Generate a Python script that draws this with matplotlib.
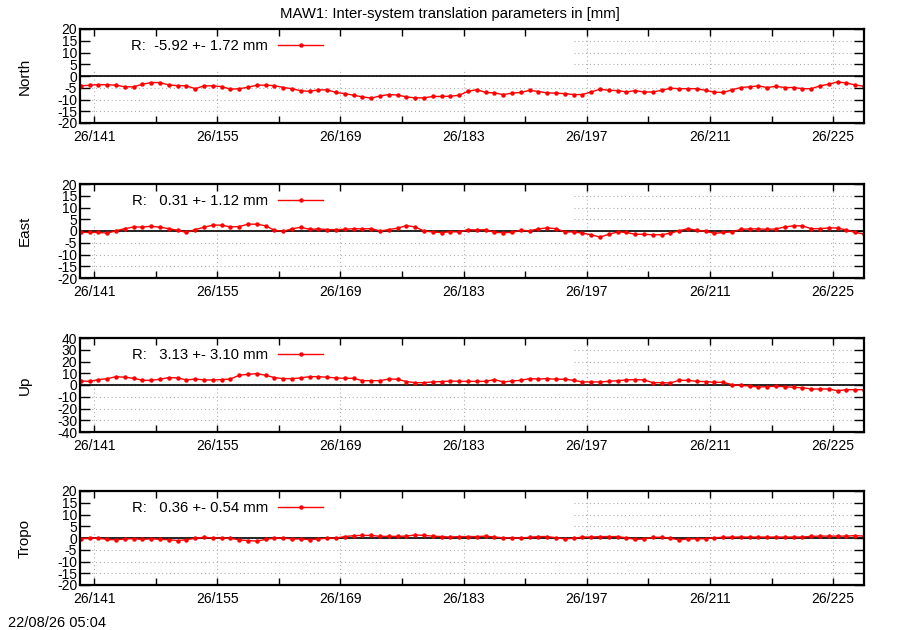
import numpy as np
import matplotlib
matplotlib.use('Agg')
import matplotlib.pyplot as plt
from matplotlib.patches import Rectangle

plt.rcParams['font.family'] = ['Liberation Sans', 'DejaVu Sans']

# Daily epochs (day of year, noon)
days = np.arange(139, 229) + 0.5

north = [-4.2, -3.9, -3.7, -3.7, -3.9, -4.6, -4.6, -3.5, -2.8, -2.8,
         -3.8, -4.1, -4.2, -5.4, -4.2, -4.2, -4.5, -5.6, -5.4, -4.8,
         -3.9, -3.9, -4.1, -4.9, -5.4, -6.3, -6.5, -5.9, -5.9, -7.0,
         -7.5, -8.2, -8.9, -9.4, -8.5, -7.9, -8.1, -8.9, -9.3, -9.3,
         -8.7, -8.7, -8.6,
         -8.2, -6.5, -5.8, -7.0, -7.2, -7.9, -7.3, -7.0, -6.1, -6.6,
         -7.2, -7.3, -7.5, -7.9, -7.9, -6.8, -5.6, -6.1, -6.2, -6.8,
         -6.2, -6.8, -6.8, -6.1, -5.2, -5.4, -5.4, -5.4, -6.1, -6.9,
         -7.0, -5.9, -4.9, -4.6, -4.2, -4.9, -4.4, -4.9, -4.9, -5.4,
         -5.4, -4.2, -3.5, -2.5, -3.0, -3.8, -4.4]

east = [-0.6, -0.6, -0.6, -0.9, 0.1, 1.0, 1.7, 1.7, 2.0, 1.6,
        1.0, 0.3, -0.6, 0.6, 1.6, 2.5, 2.5, 1.7, 1.9, 2.9,
        2.9, 2.2, 0.3, -0.1, 0.9, 1.6, 0.7, 0.9, 0.6, 0.6,
        0.7, 1.0, 0.9, 1.0, 0.0, 0.6, 1.2, 2.3, 1.7, 0.0,
        -0.4, -0.7, -0.3,
        -0.4, 0.6, 0.4, 0.6, -0.6, -0.7, -0.6, 0.3, 0.1, 0.9,
        1.3, 1.0, -0.4, -0.4, -0.9, -1.6, -2.6, -1.4, -0.4, -0.6,
        -1.4, -1.4, -1.6, -1.6, -0.9, 0.1, 1.0, 0.3, -0.1, -1.0,
        -0.6, -0.4, 0.7, 0.9, 0.9, 0.7, 0.9, 1.7, 2.2, 2.2,
        1.0, 1.0, 1.3, 1.3, 0.4, -0.6, -1.3]

up = [3.4, 3.1, 4.6, 5.4, 7.1, 6.6, 5.7, 4.0, 4.0, 4.9,
      6.3, 6.0, 4.3, 5.1, 4.3, 4.3, 4.6, 5.1, 8.3, 9.1,
      9.7, 8.3, 6.3, 5.4, 5.4, 6.0, 7.1, 7.1, 6.6, 6.0,
      5.7, 5.7, 3.7, 3.7, 3.7, 5.1, 4.9, 2.9, 2.0, 2.0,
      2.6, 2.9, 3.4,
      3.1, 3.1, 3.1, 3.1, 4.6, 2.6, 3.4, 4.0, 5.4, 5.1,
      5.4, 4.9, 4.9, 4.0, 2.6, 2.6, 2.6, 3.1, 3.7, 4.3,
      4.6, 4.3, 2.0, 2.0, 1.7, 4.0, 4.0, 3.1, 2.9, 2.3,
      2.3, 0.3, -0.3, -0.9, -1.7, -1.4, -1.1, -1.4, -2.0, -2.3,
      -3.4, -3.4, -3.4, -4.9, -4.0, -4.0, -4.0]

tropo = [-0.3, 0.0, -0.1, -0.6, -0.8, -0.4, -0.3, -0.6, -0.3, -0.6,
         -0.7, -1.1, -0.7, -0.1, 0.3, 0.0, 0.0, -0.1, -0.8, -1.1,
         -1.3, -0.6, 0.0, 0.0, -0.4, -0.4, -0.7, -0.4, -0.1, 0.0,
         0.6, 1.0, 1.1, 1.1, 0.7, 0.7, 0.7, 0.8, 1.3, 1.1,
         0.8, 0.6, 0.4,
         0.6, 0.6, 0.6, 0.8, 0.4, 0.1, 0.0, 0.0, 0.3, 0.6,
         0.6, 0.1, -0.4, -0.1, 0.4, 0.4, 0.6, 0.6, 0.6, 0.1,
         -0.6, -0.4, 0.3, 0.3, -0.1, -0.8, -0.4, -0.4, -0.3, 0.1,
         0.3, 0.4, 0.4, 0.4, 0.4, 0.4, 0.4, 0.4, 0.4, 0.4,
         0.7, 0.8, 0.8, 0.8, 0.8, 1.0, 0.8]

panel_names = ['North', 'East', 'Up', 'Tropo']
series = [north, east, up, tropo]
stat_mean = [-5.92, 0.31, 3.13, 0.36]
stat_sd = [1.72, 1.12, 3.10, 0.54]
y_limits = [20, 20, 40, 20]
y_steps = [5, 5, 10, 5]

major_days = [141, 155, 169, 183, 197, 211, 225]
minor_days = [148, 162, 176, 190, 204, 218]
xtick_labels = ['26/%d' % d for d in major_days]

title = 'MAW1: Inter-system translation parameters in [mm]'
stamp = '22/08/26 05:04'

fig = plt.figure(figsize=(9, 6.3), dpi=100)
W, H = 900, 630
ax_left, ax_right = 80, 864
tops = [29, 184, 338, 491]
ax_h = 94

for i, name in enumerate(panel_names):
    top = tops[i]
    ax = fig.add_axes([ax_left / W, 1 - (top + ax_h) / H,
                       (ax_right - ax_left) / W, ax_h / H])
    lim = y_limits[i]
    yt = list(range(-lim, lim + 1, y_steps[i]))

    # dotted grid
    for d in major_days:
        ax.axvline(d, color='#b0b0b0', lw=0.8, ls=(0, (1, 2.5)), zorder=1.0)
    for v in yt:
        ax.axhline(v, color='#b0b0b0', lw=0.8, ls=(0, (1, 2.5)), zorder=1.0)
    # opaque key area hides upper-left grid
    ax.add_patch(Rectangle((0, 0.57), 0.629, 0.43, transform=ax.transAxes,
                           facecolor='white', edgecolor='none', zorder=1.2))
    ax.axhline(0, color='black', lw=1.2, zorder=2)

    label = 'R: %6.2f +- %4.2f mm' % (stat_mean[i], stat_sd[i])
    ax.plot(days, series[i], color='#ff0000', lw=1.0, marker='o', ms=3.2,
            mew=0, label=label, zorder=3)

    ax.set_xlim(139.4, 228.5)
    ax.set_ylim(-lim, lim)
    ax.set_yticks(yt)
    ax.set_yticklabels([str(v) for v in yt])
    ax.set_xticks(major_days)
    ax.set_xticklabels(xtick_labels)
    ax.set_xticks(minor_days, minor=True)
    ax.tick_params(axis='both', which='both', direction='in',
                   top=True, right=True, labelsize=10, color='black')
    ax.tick_params(axis='y', which='major', length=7, width=1, pad=2)
    ax.tick_params(axis='x', which='major', length=5, width=1, pad=5)
    ax.tick_params(axis='x', which='minor', length=5, width=1)
    for sp in ax.spines.values():
        sp.set_linewidth(1.6)
        sp.set_zorder(4)

    ax.set_ylabel(name, fontsize=11)
    ax.yaxis.set_label_coords(-(ax_left - 32) / (ax_right - ax_left), 0.5)

    ax.legend(loc='center right', bbox_to_anchor=(0.31, 0.82),
              frameon=False, markerfirst=False, borderaxespad=0, borderpad=0,
              handlelength=3.0, handletextpad=0.7, fontsize=10.7)

fig.text(0.5, 1 - 14 / H, title, ha='center', va='center', fontsize=10.7)
fig.text(8 / W, 1 - 623 / H, stamp, ha='left', va='center', fontsize=10.5)

plt.savefig('out.png', dpi=100)
